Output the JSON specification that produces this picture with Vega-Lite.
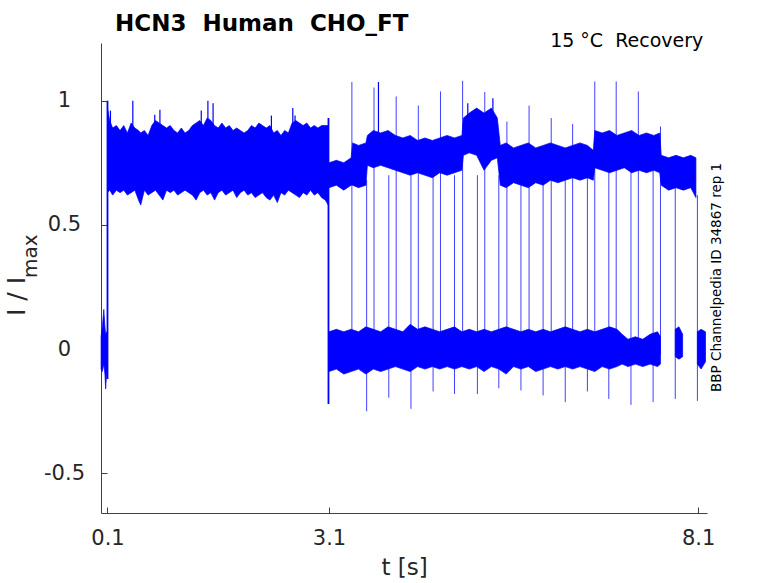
{
  "$schema": "https://vega.github.io/schema/vega-lite/v6.json",
  "width": 606,
  "height": 470,
  "autosize": "none",
  "padding": {"left": 101, "top": 43, "right": 71, "bottom": 70},
  "background": "white",
  "title": {
    "text": "HCN3\u00a0 Human\u00a0 CHO_FT",
    "anchor": "start",
    "frame": "group",
    "dx": 14,
    "dy": 22,
    "offset": 0,
    "font": "DejaVu Sans",
    "fontSize": 23,
    "fontWeight": "bold",
    "color": "#000000",
    "baseline": "alphabetic"
  },
  "config": {
    "view": {"stroke": null},
    "axis": {
      "grid": false,
      "labelFont": "DejaVu Sans",
      "titleFont": "DejaVu Sans",
      "labelFontSize": 21,
      "titleFontSize": 23,
      "labelColor": "#262626",
      "titleColor": "#262626",
      "titleFontWeight": "normal",
      "domainColor": "#404040",
      "tickColor": "#404040",
      "domainWidth": 1,
      "tickWidth": 1,
      "tickSize": -6,
      "labelFlush": false
    }
  },
  "datasets": {
    "bands": [
      {"band": "pre", "t": 0.013, "lo": -0.08, "hi": 0.05},
      {"band": "pre", "t": 0.03, "lo": -0.09, "hi": 0.09},
      {"band": "pre", "t": 0.05, "lo": -0.06, "hi": 0.16},
      {"band": "pre", "t": 0.065, "lo": -0.1, "hi": 0.09},
      {"band": "pre", "t": 0.075, "lo": -0.16, "hi": 0.06},
      {"band": "pre", "t": 0.09, "lo": -0.09, "hi": 0.07},
      {"band": "pre", "t": 0.1, "lo": -0.1, "hi": 0.05},

      {"band": "prepulse", "t": 0.1, "lo": 0.63, "hi": 0.97},
      {"band": "prepulse", "t": 0.13, "lo": 0.64, "hi": 0.92},
      {"band": "prepulse", "t": 0.17, "lo": 0.62, "hi": 0.89},
      {"band": "prepulse", "t": 0.22, "lo": 0.64, "hi": 0.9},
      {"band": "prepulse", "t": 0.27, "lo": 0.63, "hi": 0.88},
      {"band": "prepulse", "t": 0.32, "lo": 0.64, "hi": 0.9},
      {"band": "prepulse", "t": 0.37, "lo": 0.62, "hi": 0.87},
      {"band": "prepulse", "t": 0.42, "lo": 0.63, "hi": 0.91},
      {"band": "prepulse", "t": 0.47, "lo": 0.64, "hi": 0.89},
      {"band": "prepulse", "t": 0.52, "lo": 0.6, "hi": 0.88},
      {"band": "prepulse", "t": 0.55, "lo": 0.58, "hi": 0.87},
      {"band": "prepulse", "t": 0.6, "lo": 0.64, "hi": 0.88},
      {"band": "prepulse", "t": 0.65, "lo": 0.62, "hi": 0.86},
      {"band": "prepulse", "t": 0.7, "lo": 0.63, "hi": 0.9},
      {"band": "prepulse", "t": 0.75, "lo": 0.64, "hi": 0.92},
      {"band": "prepulse", "t": 0.8, "lo": 0.62, "hi": 0.91},
      {"band": "prepulse", "t": 0.85, "lo": 0.6, "hi": 0.9},
      {"band": "prepulse", "t": 0.9, "lo": 0.64, "hi": 0.89},
      {"band": "prepulse", "t": 0.95, "lo": 0.63, "hi": 0.9},
      {"band": "prepulse", "t": 1.0, "lo": 0.64, "hi": 0.88},
      {"band": "prepulse", "t": 1.05, "lo": 0.62, "hi": 0.87},
      {"band": "prepulse", "t": 1.1, "lo": 0.63, "hi": 0.89},
      {"band": "prepulse", "t": 1.15, "lo": 0.64, "hi": 0.87},
      {"band": "prepulse", "t": 1.2, "lo": 0.63, "hi": 0.88},
      {"band": "prepulse", "t": 1.25, "lo": 0.62, "hi": 0.9},
      {"band": "prepulse", "t": 1.3, "lo": 0.6, "hi": 0.91},
      {"band": "prepulse", "t": 1.35, "lo": 0.63, "hi": 0.92},
      {"band": "prepulse", "t": 1.4, "lo": 0.64, "hi": 0.9},
      {"band": "prepulse", "t": 1.45, "lo": 0.62, "hi": 0.93},
      {"band": "prepulse", "t": 1.5, "lo": 0.63, "hi": 0.92},
      {"band": "prepulse", "t": 1.55, "lo": 0.6, "hi": 0.9},
      {"band": "prepulse", "t": 1.6, "lo": 0.63, "hi": 0.89},
      {"band": "prepulse", "t": 1.65, "lo": 0.64, "hi": 0.91},
      {"band": "prepulse", "t": 1.7, "lo": 0.62, "hi": 0.89},
      {"band": "prepulse", "t": 1.75, "lo": 0.63, "hi": 0.9},
      {"band": "prepulse", "t": 1.8, "lo": 0.64, "hi": 0.88},
      {"band": "prepulse", "t": 1.85, "lo": 0.61, "hi": 0.89},
      {"band": "prepulse", "t": 1.9, "lo": 0.63, "hi": 0.88},
      {"band": "prepulse", "t": 1.95, "lo": 0.64, "hi": 0.87},
      {"band": "prepulse", "t": 2.0, "lo": 0.62, "hi": 0.88},
      {"band": "prepulse", "t": 2.05, "lo": 0.63, "hi": 0.9},
      {"band": "prepulse", "t": 2.1, "lo": 0.61, "hi": 0.89},
      {"band": "prepulse", "t": 2.15, "lo": 0.62, "hi": 0.91},
      {"band": "prepulse", "t": 2.2, "lo": 0.63, "hi": 0.9},
      {"band": "prepulse", "t": 2.25, "lo": 0.61, "hi": 0.89},
      {"band": "prepulse", "t": 2.3, "lo": 0.6, "hi": 0.9},
      {"band": "prepulse", "t": 2.35, "lo": 0.62, "hi": 0.87},
      {"band": "prepulse", "t": 2.4, "lo": 0.59, "hi": 0.88},
      {"band": "prepulse", "t": 2.45, "lo": 0.63, "hi": 0.86},
      {"band": "prepulse", "t": 2.5, "lo": 0.62, "hi": 0.88},
      {"band": "prepulse", "t": 2.55, "lo": 0.64, "hi": 0.87},
      {"band": "prepulse", "t": 2.6, "lo": 0.63, "hi": 0.91},
      {"band": "prepulse", "t": 2.65, "lo": 0.62, "hi": 0.92},
      {"band": "prepulse", "t": 2.7, "lo": 0.61, "hi": 0.91},
      {"band": "prepulse", "t": 2.75, "lo": 0.63, "hi": 0.9},
      {"band": "prepulse", "t": 2.8, "lo": 0.62, "hi": 0.91},
      {"band": "prepulse", "t": 2.85, "lo": 0.64, "hi": 0.89},
      {"band": "prepulse", "t": 2.9, "lo": 0.62, "hi": 0.9},
      {"band": "prepulse", "t": 2.95, "lo": 0.63, "hi": 0.89},
      {"band": "prepulse", "t": 3.0, "lo": 0.61, "hi": 0.9},
      {"band": "prepulse", "t": 3.05, "lo": 0.6, "hi": 0.9},
      {"band": "prepulse", "t": 3.09, "lo": 0.58, "hi": 0.9},

      {"band": "open", "t": 3.1, "lo": 0.65, "hi": 0.75},
      {"band": "open", "t": 3.2, "lo": 0.66, "hi": 0.76},
      {"band": "open", "t": 3.3, "lo": 0.64, "hi": 0.75},
      {"band": "open", "t": 3.4, "lo": 0.66, "hi": 0.77},
      {"band": "open", "t": 3.42, "lo": 0.66, "hi": 0.83},
      {"band": "open", "t": 3.5, "lo": 0.65, "hi": 0.82},
      {"band": "open", "t": 3.6, "lo": 0.66, "hi": 0.83},
      {"band": "open", "t": 3.62, "lo": 0.74, "hi": 0.86},
      {"band": "open", "t": 3.7, "lo": 0.73, "hi": 0.88},
      {"band": "open", "t": 3.8, "lo": 0.74, "hi": 0.87},
      {"band": "open", "t": 3.9, "lo": 0.73, "hi": 0.88},
      {"band": "open", "t": 4.0, "lo": 0.72, "hi": 0.86},
      {"band": "open", "t": 4.1, "lo": 0.71, "hi": 0.85},
      {"band": "open", "t": 4.2, "lo": 0.7, "hi": 0.86},
      {"band": "open", "t": 4.3, "lo": 0.71, "hi": 0.84},
      {"band": "open", "t": 4.4, "lo": 0.7, "hi": 0.85},
      {"band": "open", "t": 4.5, "lo": 0.69, "hi": 0.84},
      {"band": "open", "t": 4.6, "lo": 0.71, "hi": 0.85},
      {"band": "open", "t": 4.7, "lo": 0.7, "hi": 0.86},
      {"band": "open", "t": 4.8, "lo": 0.71, "hi": 0.85},
      {"band": "open", "t": 4.9, "lo": 0.72, "hi": 0.86},
      {"band": "open", "t": 4.92, "lo": 0.78, "hi": 0.93},
      {"band": "open", "t": 5.0, "lo": 0.79, "hi": 0.95},
      {"band": "open", "t": 5.1, "lo": 0.78, "hi": 0.97},
      {"band": "open", "t": 5.2, "lo": 0.72, "hi": 0.95},
      {"band": "open", "t": 5.3, "lo": 0.76, "hi": 0.97},
      {"band": "open", "t": 5.38, "lo": 0.77, "hi": 0.93},
      {"band": "open", "t": 5.42, "lo": 0.66, "hi": 0.82},
      {"band": "open", "t": 5.5, "lo": 0.65, "hi": 0.83},
      {"band": "open", "t": 5.6, "lo": 0.67, "hi": 0.81},
      {"band": "open", "t": 5.7, "lo": 0.66, "hi": 0.82},
      {"band": "open", "t": 5.8, "lo": 0.65, "hi": 0.83},
      {"band": "open", "t": 5.9, "lo": 0.67, "hi": 0.81},
      {"band": "open", "t": 6.0, "lo": 0.66, "hi": 0.82},
      {"band": "open", "t": 6.1, "lo": 0.68, "hi": 0.83},
      {"band": "open", "t": 6.2, "lo": 0.67, "hi": 0.82},
      {"band": "open", "t": 6.3, "lo": 0.68, "hi": 0.81},
      {"band": "open", "t": 6.4, "lo": 0.69, "hi": 0.82},
      {"band": "open", "t": 6.5, "lo": 0.68, "hi": 0.83},
      {"band": "open", "t": 6.6, "lo": 0.69, "hi": 0.82},
      {"band": "open", "t": 6.68, "lo": 0.68, "hi": 0.8},
      {"band": "open", "t": 6.7, "lo": 0.73, "hi": 0.88},
      {"band": "open", "t": 6.8, "lo": 0.72, "hi": 0.87},
      {"band": "open", "t": 6.9, "lo": 0.71, "hi": 0.88},
      {"band": "open", "t": 7.0, "lo": 0.72, "hi": 0.86},
      {"band": "open", "t": 7.1, "lo": 0.73, "hi": 0.87},
      {"band": "open", "t": 7.2, "lo": 0.71, "hi": 0.88},
      {"band": "open", "t": 7.3, "lo": 0.72, "hi": 0.86},
      {"band": "open", "t": 7.4, "lo": 0.71, "hi": 0.87},
      {"band": "open", "t": 7.5, "lo": 0.72, "hi": 0.86},
      {"band": "open", "t": 7.58, "lo": 0.71, "hi": 0.87},
      {"band": "open", "t": 7.6, "lo": 0.66, "hi": 0.78},
      {"band": "open", "t": 7.7, "lo": 0.64, "hi": 0.77},
      {"band": "open", "t": 7.8, "lo": 0.65, "hi": 0.78},
      {"band": "open", "t": 7.9, "lo": 0.64, "hi": 0.77},
      {"band": "open", "t": 8.0, "lo": 0.65, "hi": 0.78},
      {"band": "open", "t": 8.07, "lo": 0.61, "hi": 0.77},

      {"band": "closed", "t": 3.1, "lo": -0.09, "hi": 0.07},
      {"band": "closed", "t": 3.2, "lo": -0.08, "hi": 0.08},
      {"band": "closed", "t": 3.3, "lo": -0.1, "hi": 0.07},
      {"band": "closed", "t": 3.4, "lo": -0.09, "hi": 0.08},
      {"band": "closed", "t": 3.5, "lo": -0.08, "hi": 0.07},
      {"band": "closed", "t": 3.6, "lo": -0.1, "hi": 0.09},
      {"band": "closed", "t": 3.7, "lo": -0.08, "hi": 0.08},
      {"band": "closed", "t": 3.8, "lo": -0.09, "hi": 0.07},
      {"band": "closed", "t": 3.9, "lo": -0.08, "hi": 0.09},
      {"band": "closed", "t": 4.0, "lo": -0.07, "hi": 0.08},
      {"band": "closed", "t": 4.1, "lo": -0.08, "hi": 0.07},
      {"band": "closed", "t": 4.2, "lo": -0.09, "hi": 0.1},
      {"band": "closed", "t": 4.3, "lo": -0.07, "hi": 0.08},
      {"band": "closed", "t": 4.4, "lo": -0.08, "hi": 0.09},
      {"band": "closed", "t": 4.5, "lo": -0.07, "hi": 0.08},
      {"band": "closed", "t": 4.6, "lo": -0.08, "hi": 0.07},
      {"band": "closed", "t": 4.7, "lo": -0.07, "hi": 0.08},
      {"band": "closed", "t": 4.8, "lo": -0.08, "hi": 0.09},
      {"band": "closed", "t": 4.9, "lo": -0.07, "hi": 0.07},
      {"band": "closed", "t": 5.0, "lo": -0.08, "hi": 0.08},
      {"band": "closed", "t": 5.1, "lo": -0.07, "hi": 0.07},
      {"band": "closed", "t": 5.2, "lo": -0.09, "hi": 0.08},
      {"band": "closed", "t": 5.3, "lo": -0.07, "hi": 0.07},
      {"band": "closed", "t": 5.4, "lo": -0.08, "hi": 0.08},
      {"band": "closed", "t": 5.5, "lo": -0.1, "hi": 0.09},
      {"band": "closed", "t": 5.6, "lo": -0.07, "hi": 0.08},
      {"band": "closed", "t": 5.7, "lo": -0.08, "hi": 0.07},
      {"band": "closed", "t": 5.8, "lo": -0.07, "hi": 0.08},
      {"band": "closed", "t": 5.9, "lo": -0.09, "hi": 0.07},
      {"band": "closed", "t": 6.0, "lo": -0.08, "hi": 0.08},
      {"band": "closed", "t": 6.1, "lo": -0.07, "hi": 0.07},
      {"band": "closed", "t": 6.2, "lo": -0.08, "hi": 0.08},
      {"band": "closed", "t": 6.3, "lo": -0.07, "hi": 0.09},
      {"band": "closed", "t": 6.4, "lo": -0.08, "hi": 0.08},
      {"band": "closed", "t": 6.5, "lo": -0.07, "hi": 0.07},
      {"band": "closed", "t": 6.6, "lo": -0.08, "hi": 0.08},
      {"band": "closed", "t": 6.7, "lo": -0.09, "hi": 0.07},
      {"band": "closed", "t": 6.8, "lo": -0.07, "hi": 0.08},
      {"band": "closed", "t": 6.9, "lo": -0.08, "hi": 0.09},
      {"band": "closed", "t": 7.0, "lo": -0.07, "hi": 0.08},
      {"band": "closed", "t": 7.07, "lo": -0.06, "hi": 0.06},
      {"band": "closed", "t": 7.15, "lo": -0.07, "hi": 0.04},
      {"band": "closed", "t": 7.25, "lo": -0.06, "hi": 0.05},
      {"band": "closed", "t": 7.35, "lo": -0.07, "hi": 0.04},
      {"band": "closed", "t": 7.45, "lo": -0.06, "hi": 0.06},
      {"band": "closed", "t": 7.55, "lo": -0.07, "hi": 0.07},
      {"band": "closed", "t": 7.59, "lo": -0.06, "hi": 0.05},

      {"band": "closed2", "t": 7.79, "lo": -0.03, "hi": 0.08},
      {"band": "closed2", "t": 7.84, "lo": -0.04, "hi": 0.09},
      {"band": "closed2", "t": 7.89, "lo": -0.03, "hi": 0.06},

      {"band": "closed3", "t": 8.09, "lo": -0.06, "hi": 0.07},
      {"band": "closed3", "t": 8.14, "lo": -0.08, "hi": 0.08},
      {"band": "closed3", "t": 8.2, "lo": -0.05, "hi": 0.07}
    ],
    "edges": [
      {"kind": "step", "t": 0.1, "lo": -0.12, "hi": 1.0},
      {"kind": "step", "t": 3.093, "lo": -0.22, "hi": 0.93},

      {"kind": "peak", "t": 0.14, "lo": 0.85, "hi": 0.96},
      {"kind": "peak", "t": 0.443, "lo": 0.85, "hi": 1.0},
      {"kind": "peak", "t": 0.74, "lo": 0.85, "hi": 0.943},
      {"kind": "peak", "t": 0.81, "lo": 0.85, "hi": 0.963},
      {"kind": "peak", "t": 1.37, "lo": 0.85, "hi": 0.96},
      {"kind": "peak", "t": 1.46, "lo": 0.85, "hi": 1.0},
      {"kind": "peak", "t": 1.53, "lo": 0.85, "hi": 0.99},
      {"kind": "peak", "t": 2.32, "lo": 0.85, "hi": 0.94},
      {"kind": "peak", "t": 2.61, "lo": 0.85, "hi": 0.97},
      {"kind": "peak", "t": 2.64, "lo": 0.85, "hi": 0.94},
      {"kind": "peak", "t": 3.77, "lo": 0.82, "hi": 1.075},
      {"kind": "peak", "t": 4.98, "lo": 0.9, "hi": 0.99},
      {"kind": "peak", "t": 5.32, "lo": 0.9, "hi": 1.01},

      {"kind": "switch", "t": 3.41, "lo": -0.02, "hi": 1.075},
      {"kind": "switch", "t": 3.71, "lo": -0.02, "hi": 1.053},
      {"kind": "switch", "t": 4.01, "lo": -0.02, "hi": 1.017},
      {"kind": "switch", "t": 4.31, "lo": -0.02, "hi": 0.98},
      {"kind": "switch", "t": 4.61, "lo": -0.02, "hi": 1.037},
      {"kind": "switch", "t": 4.91, "lo": -0.02, "hi": 1.08},
      {"kind": "switch", "t": 5.21, "lo": -0.02, "hi": 1.035},
      {"kind": "switch", "t": 5.51, "lo": -0.02, "hi": 0.916},
      {"kind": "switch", "t": 5.81, "lo": -0.02, "hi": 0.98},
      {"kind": "switch", "t": 6.11, "lo": -0.02, "hi": 0.93},
      {"kind": "switch", "t": 6.4, "lo": -0.02, "hi": 0.906},
      {"kind": "switch", "t": 6.7, "lo": -0.02, "hi": 1.077},
      {"kind": "switch", "t": 6.99, "lo": -0.02, "hi": 1.077},
      {"kind": "switch", "t": 7.29, "lo": -0.02, "hi": 1.037},
      {"kind": "switch", "t": 7.59, "lo": -0.02, "hi": 0.896},

      {"kind": "switch", "t": 3.61, "lo": -0.25, "hi": 0.68},
      {"kind": "switch", "t": 3.91, "lo": -0.195, "hi": 0.7},
      {"kind": "switch", "t": 4.21, "lo": -0.24, "hi": 0.7},
      {"kind": "switch", "t": 4.51, "lo": -0.17, "hi": 0.7},
      {"kind": "switch", "t": 4.8, "lo": -0.18, "hi": 0.7},
      {"kind": "switch", "t": 5.11, "lo": -0.18, "hi": 0.7},
      {"kind": "switch", "t": 5.4, "lo": -0.157, "hi": 0.7},
      {"kind": "switch", "t": 5.7, "lo": -0.166, "hi": 0.68},
      {"kind": "switch", "t": 6.0, "lo": -0.186, "hi": 0.68},
      {"kind": "switch", "t": 6.3, "lo": -0.213, "hi": 0.68},
      {"kind": "switch", "t": 6.6, "lo": -0.17, "hi": 0.7},
      {"kind": "switch", "t": 6.89, "lo": -0.2, "hi": 0.72},
      {"kind": "switch", "t": 7.19, "lo": -0.224, "hi": 0.72},
      {"kind": "switch", "t": 7.49, "lo": -0.213, "hi": 0.72},
      {"kind": "switch", "t": 7.79, "lo": -0.2, "hi": 0.66},
      {"kind": "switch", "t": 8.09, "lo": -0.208, "hi": 0.62}
    ]
  },
  "layer": [
    {
      "data": {"name": "bands"},
      "mark": {"type": "area", "color": "#0000ff", "opacity": 1, "stroke": "#0000ff", "strokeWidth": 0.7},
      "encoding": {
        "x": {
          "field": "t",
          "type": "quantitative",
          "scale": {"domain": [0.012, 8.22], "nice": false, "zero": false},
          "axis": {
            "values": [0.1, 3.1, 8.1],
            "title": "t [s]",
            "labelExpr": "datum.value + ''",
            "labelPadding": 20,
            "titlePadding": 8
          }
        },
        "y": {
          "field": "lo",
          "type": "quantitative",
          "scale": {"domain": [-0.659, 1.232], "nice": false, "zero": false},
          "axis": {
            "values": [-0.5, 0, 0.5, 1],
            "title": "I / I",
            "labelExpr": "datum.value + ''",
            "labelAlign": "center",
            "labelBaseline": "middle",
            "labelPadding": 43,
            "titleFontSize": 25,
            "titleAngle": 270,
            "titleAlign": "center",
            "titleBaseline": "middle",
            "titleX": -85,
            "titleY": 253
          }
        },
        "y2": {"field": "hi"},
        "detail": {"field": "band"}
      }
    },
    {
      "data": {"name": "edges"},
      "transform": [{"filter": "datum.kind == 'switch'"}],
      "mark": {"type": "rule", "color": "#0000ff", "strokeWidth": 1, "opacity": 0.75},
      "encoding": {
        "x": {"field": "t", "type": "quantitative"},
        "y": {"field": "lo", "type": "quantitative"},
        "y2": {"field": "hi"}
      }
    },
    {
      "data": {"name": "edges"},
      "transform": [{"filter": "datum.kind == 'step'"}],
      "mark": {"type": "rule", "color": "#0000ff", "strokeWidth": 1.8},
      "encoding": {
        "x": {"field": "t", "type": "quantitative"},
        "y": {"field": "lo", "type": "quantitative"},
        "y2": {"field": "hi"}
      }
    },
    {
      "data": {"name": "edges"},
      "transform": [{"filter": "datum.kind == 'peak'"}],
      "mark": {"type": "rule", "color": "#0000ff", "strokeWidth": 1.2},
      "encoding": {
        "x": {"field": "t", "type": "quantitative"},
        "y": {"field": "lo", "type": "quantitative"},
        "y2": {"field": "hi"}
      }
    },
    {
      "data": {"values": [{"note": "15 °C\u00a0 Recovery"}]},
      "mark": {"type": "text", "align": "right", "baseline": "alphabetic", "font": "DejaVu Sans", "fontSize": 19, "color": "#000000"},
      "encoding": {
        "x": {"datum": 8.17, "type": "quantitative"},
        "y": {"datum": 1.216, "type": "quantitative"},
        "text": {"field": "note"}
      }
    },
    {
      "data": {"values": [{"note": "BBP Channelpedia ID 34867 rep 1"}]},
      "mark": {"type": "text", "align": "center", "baseline": "middle", "angle": 270, "font": "DejaVu Sans", "fontSize": 13.5, "color": "#000000"},
      "encoding": {
        "x": {"datum": 8.357, "type": "quantitative"},
        "y": {"datum": 0.289, "type": "quantitative"},
        "text": {"field": "note"}
      }
    },
    {
      "data": {"values": [{"note": "max"}]},
      "mark": {"type": "text", "align": "center", "baseline": "middle", "angle": 270, "font": "DejaVu Sans", "fontSize": 20, "color": "#262626"},
      "encoding": {
        "x": {"datum": -0.938, "type": "quantitative"},
        "y": {"datum": 0.374, "type": "quantitative"},
        "text": {"field": "note"}
      }
    }
  ]
}
